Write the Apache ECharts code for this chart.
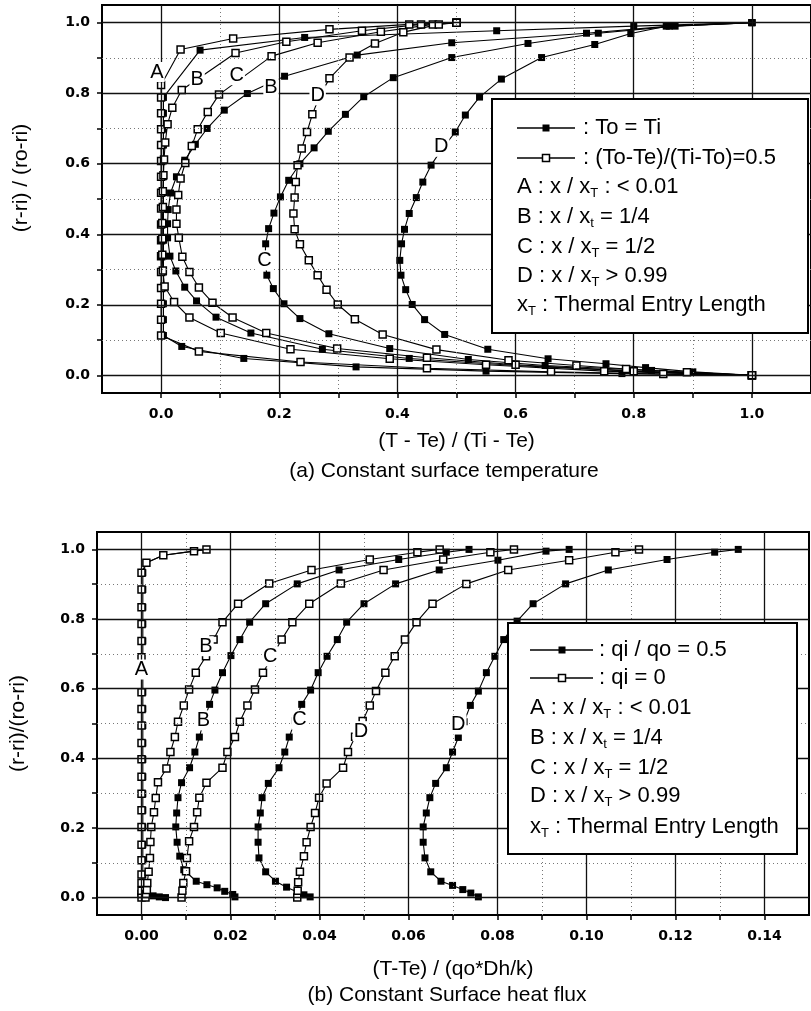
<!DOCTYPE html>
<html>
<head>
<meta charset="utf-8">
<script src="https://cdn.jsdelivr.net/npm/echarts@6.0.0/dist/echarts.min.js"></script>
<style>
  html, body { margin: 0; padding: 0; background: #fff; }
  #chart { width: 811px; height: 1011px; }
</style>
</head>
<body>
<div id="chart"></div>
<script>
// (a) constant surface temperature : [ (T-Te)/(Ti-Te), (r-ri)/(ro-ri) ]
var aASolid = [[1.0,0.0],[0.78,0.005],[0.55,0.012],[0.33,0.024],[0.14,0.048],[0.035,0.082],[0.004,0.113],[0.004,0.158],[0.004,0.203],[0.004,0.248],[0.004,0.293],[0.004,0.338],[0.004,0.383],[0.004,0.428],[0.004,0.473],[0.004,0.518],[0.004,0.563],[0.004,0.608],[0.004,0.653],[0.004,0.698],[0.004,0.743],[0.004,0.788],[0.066,0.922],[0.243,0.958],[0.568,0.977],[0.8,0.99],[1.0,1.0]];
var aAOpen = [[1.0,0.0],[0.85,0.004],[0.66,0.01],[0.45,0.02],[0.236,0.038],[0.064,0.068],[0.0,0.113],[0.0,0.158],[0.0,0.203],[0.0,0.248],[0.0,0.293],[0.0,0.338],[0.0,0.383],[0.0,0.428],[0.0,0.473],[0.0,0.518],[0.0,0.563],[0.0,0.608],[0.0,0.653],[0.0,0.698],[0.0,0.743],[0.0,0.788],[0.0,0.823],[0.033,0.924],[0.122,0.955],[0.285,0.981],[0.42,0.995],[0.5,1.0]];
var aBSolid = [[1.0,0.0],[0.8,0.012],[0.6,0.028],[0.42,0.048],[0.273,0.074],[0.152,0.12],[0.093,0.165],[0.06,0.211],[0.04,0.25],[0.025,0.296],[0.015,0.338],[0.011,0.39],[0.011,0.43],[0.012,0.47],[0.016,0.517],[0.026,0.563],[0.04,0.61],[0.058,0.655],[0.078,0.7],[0.107,0.752],[0.146,0.799],[0.209,0.848],[0.332,0.908],[0.492,0.943],[0.72,0.97],[0.86,0.99],[1.0,1.0]];
var aBOpen = [[1.0,0.0],[0.75,0.012],[0.55,0.03],[0.387,0.047],[0.219,0.074],[0.101,0.12],[0.048,0.164],[0.022,0.208],[0.006,0.252],[0.003,0.297],[0.002,0.342],[0.002,0.387],[0.002,0.432],[0.003,0.477],[0.003,0.522],[0.004,0.567],[0.005,0.612],[0.007,0.66],[0.011,0.712],[0.019,0.759],[0.035,0.809],[0.126,0.914],[0.212,0.946],[0.34,0.977],[0.44,0.995],[0.5,1.0]];
var aCSolid = [[1.0,0.0],[0.83,0.014],[0.65,0.028],[0.52,0.045],[0.387,0.076],[0.284,0.118],[0.235,0.161],[0.208,0.203],[0.19,0.246],[0.179,0.284],[0.176,0.33],[0.177,0.373],[0.182,0.416],[0.191,0.46],[0.202,0.506],[0.216,0.553],[0.235,0.6],[0.259,0.645],[0.283,0.692],[0.312,0.74],[0.343,0.79],[0.393,0.844],[0.492,0.901],[0.621,0.941],[0.74,0.97],[0.87,0.99],[1.0,1.0]];
var aCOpen = [[1.0,0.0],[0.8,0.012],[0.6,0.03],[0.45,0.05],[0.298,0.076],[0.178,0.12],[0.121,0.164],[0.087,0.206],[0.064,0.249],[0.048,0.293],[0.036,0.336],[0.03,0.39],[0.026,0.43],[0.026,0.47],[0.029,0.511],[0.033,0.558],[0.041,0.602],[0.052,0.65],[0.062,0.698],[0.079,0.747],[0.098,0.796],[0.187,0.905],[0.265,0.943],[0.372,0.974],[0.46,0.995],[0.5,1.0]];
var aDSolid = [[1.0,0.0],[0.9,0.01],[0.82,0.022],[0.753,0.033],[0.655,0.047],[0.553,0.074],[0.48,0.116],[0.446,0.158],[0.425,0.201],[0.414,0.243],[0.406,0.284],[0.404,0.326],[0.407,0.373],[0.412,0.414],[0.42,0.459],[0.432,0.504],[0.443,0.548],[0.457,0.596],[0.476,0.643],[0.498,0.69],[0.515,0.738],[0.539,0.789],[0.576,0.84],[0.644,0.901],[0.734,0.938],[0.795,0.969],[0.855,0.99],[1.0,1.0]];
var aDOpen = [[1.0,0.0],[0.89,0.009],[0.787,0.018],[0.703,0.028],[0.588,0.043],[0.466,0.073],[0.375,0.116],[0.328,0.159],[0.299,0.201],[0.28,0.243],[0.265,0.284],[0.25,0.326],[0.235,0.372],[0.226,0.414],[0.224,0.459],[0.226,0.504],[0.228,0.548],[0.231,0.596],[0.238,0.643],[0.247,0.69],[0.256,0.74],[0.268,0.79],[0.285,0.842],[0.319,0.901],[0.362,0.941],[0.41,0.973],[0.47,0.995],[0.5,1.0]];
var aLabelText = ['A', 'B', 'C', 'B', 'D', 'C', 'D'];
var aLabelPos = [[-0.007,0.86],[0.061,0.839],[0.128,0.851],[0.186,0.816],[0.265,0.794],[0.175,0.326],[0.474,0.648]];

// (b) constant surface heat flux : [ (T-Te)/(qo*Dh/k), (r-ri)/(ro-ri) ]
var bASolid = [[0.0054,0],[0.004,0.002],[0.0026,0.005],[0.0013,0.01],[0.0005,0.02],[0.0003,0.042],[0.0003,0.066],[0.0003,0.107],[0.0003,0.152],[0.0003,0.203],[0.0003,0.251],[0.0003,0.298],[0.0003,0.347],[0.0003,0.397],[0.0003,0.444],[0.0003,0.494],[0.0003,0.542],[0.0003,0.59],[0.0003,0.737],[0.0003,0.786],[0.0003,0.834],[0.0003,0.885],[0.0003,0.933],[0.0011,0.962],[0.0049,0.983],[0.0118,0.995],[0.0146,1.0]];
var bAOpen = [[0,0],[0,0.01],[0,0.02],[0,0.042],[0,0.066],[0,0.107],[0,0.152],[0,0.203],[0,0.251],[0,0.298],[0,0.347],[0,0.397],[0,0.444],[0,0.494],[0,0.542],[0,0.59],[0,0.64],[0,0.69],[0,0.737],[0,0.786],[0,0.834],[0,0.885],[0,0.933],[0.0011,0.962],[0.0049,0.983],[0.0118,0.995],[0.0146,1.0]];
var bBSolid = [[0.021,0.002],[0.0205,0.009],[0.0187,0.018],[0.017,0.028],[0.0147,0.037],[0.0123,0.047],[0.0095,0.08],[0.0086,0.119],[0.008,0.159],[0.0077,0.203],[0.0079,0.243],[0.0082,0.287],[0.009,0.33],[0.0108,0.373],[0.012,0.418],[0.013,0.461],[0.014,0.508],[0.0153,0.555],[0.0165,0.596],[0.0182,0.646],[0.0201,0.695],[0.0221,0.741],[0.0243,0.791],[0.0279,0.844],[0.035,0.901],[0.0444,0.941],[0.0578,0.971],[0.0685,0.992],[0.0736,1.0]];
var bBOpen = [[0.0009,0],[0.001,0.01],[0.0012,0.022],[0.0013,0.042],[0.0016,0.074],[0.0019,0.114],[0.002,0.16],[0.0022,0.203],[0.0028,0.245],[0.0032,0.286],[0.0037,0.331],[0.0056,0.371],[0.0065,0.418],[0.0075,0.461],[0.0082,0.505],[0.0095,0.552],[0.0107,0.598],[0.0122,0.646],[0.0145,0.693],[0.0162,0.741],[0.0182,0.791],[0.0217,0.844],[0.0287,0.902],[0.0382,0.941],[0.0513,0.971],[0.062,0.992],[0.067,1.0]];
var bCSolid = [[0.0379,0.002],[0.0365,0.008],[0.035,0.016],[0.0326,0.03],[0.0301,0.047],[0.0279,0.074],[0.0264,0.114],[0.0262,0.159],[0.0262,0.203],[0.0267,0.243],[0.0271,0.287],[0.0285,0.328],[0.0309,0.373],[0.0322,0.418],[0.0332,0.461],[0.0345,0.508],[0.036,0.555],[0.038,0.596],[0.0397,0.646],[0.0417,0.693],[0.044,0.741],[0.0461,0.791],[0.05,0.844],[0.0571,0.901],[0.0669,0.941],[0.0801,0.969],[0.0909,0.995],[0.0961,1.0]];
var bCOpen = [[0.009,0],[0.0092,0.02],[0.0094,0.042],[0.01,0.076],[0.0102,0.114],[0.0107,0.162],[0.0118,0.203],[0.0125,0.245],[0.013,0.287],[0.0146,0.33],[0.0182,0.373],[0.0193,0.418],[0.021,0.461],[0.0221,0.505],[0.0238,0.552],[0.0255,0.598],[0.0273,0.646],[0.0294,0.693],[0.0315,0.741],[0.0339,0.791],[0.0377,0.844],[0.0448,0.902],[0.0544,0.941],[0.0678,0.971],[0.0784,0.992],[0.0837,1.0]];
var bDSolid = [[0.0757,0.002],[0.074,0.013],[0.0722,0.023],[0.0699,0.035],[0.0673,0.047],[0.065,0.074],[0.0637,0.114],[0.0633,0.159],[0.0633,0.203],[0.064,0.243],[0.0648,0.287],[0.0661,0.328],[0.0685,0.373],[0.0699,0.418],[0.0712,0.46],[0.0725,0.505],[0.0739,0.552],[0.0757,0.593],[0.0775,0.646],[0.0794,0.693],[0.0814,0.741],[0.0844,0.794],[0.088,0.844],[0.0953,0.901],[0.1049,0.941],[0.1181,0.971],[0.1288,0.992],[0.1341,1.0]];
var bDOpen = [[0.035,0],[0.0351,0.02],[0.0352,0.044],[0.0356,0.074],[0.0365,0.119],[0.0371,0.159],[0.038,0.203],[0.039,0.243],[0.0399,0.287],[0.0416,0.328],[0.0453,0.373],[0.0464,0.418],[0.048,0.462],[0.0497,0.507],[0.0513,0.552],[0.0527,0.593],[0.0548,0.646],[0.0569,0.693],[0.0592,0.741],[0.0618,0.791],[0.0654,0.844],[0.073,0.901],[0.0824,0.941],[0.0961,0.969],[0.1065,0.992],[0.1118,1.0]];
var bLabelText = ['A', 'B', 'C', 'B', 'C', 'D', 'D'];
var bLabelPos = [[0,0.655],[0.0145,0.722],[0.0289,0.693],[0.0139,0.509],[0.0355,0.511],[0.0493,0.478],[0.0712,0.497]];

// ticks / grid values
var yTicks = [0,0.1,0.2,0.3,0.4,0.5,0.6,0.7,0.8,0.9,1.0];
var yLabels = [0,0.2,0.4,0.6,0.8,1.0];
var yMinor = [0.1,0.3,0.5,0.7,0.9];
var aXTicks = [0,0.1,0.2,0.3,0.4,0.5,0.6,0.7,0.8,0.9,1.0];
var aXLabels = [0,0.2,0.4,0.6,0.8,1.0];
var aXMinor = [0.1,0.3,0.5,0.7,0.9];
var bXTicks = [0,0.01,0.02,0.03,0.04,0.05,0.06,0.07,0.08,0.09,0.1,0.11,0.12,0.13,0.14];
var bXLabels = [0,0.02,0.04,0.06,0.08,0.1,0.12,0.14];
var bXMinor = [0.01,0.03,0.05,0.07,0.09,0.11,0.13];

var FONT = '"Liberation Sans", Arial, sans-serif';
var TICKFONT = '"DejaVu Sans", sans-serif';

var chart = echarts.init(document.getElementById('chart'));

function curve(name, data, open, idx) {
  return {
    name: name, type: 'line', xAxisIndex: idx, yAxisIndex: idx, data: data,
    symbol: 'rect', symbolSize: 7, showAllSymbol: true, silent: true,
    lineStyle: { color: '#000', width: 1.1 },
    itemStyle: open ? { color: '#fff', borderColor: '#000', borderWidth: 1.5 } : { color: '#000' },
    z: open ? 4 : 3
  };
}

function gridLines(idx, xMaj, xMin, yMaj, yMin) {
  var maj = { color: '#111', width: 1.3, type: 'solid' };
  var mnr = { color: '#777', width: 1, type: [1, 3] };
  var items = [];
  xMaj.forEach(function (v) { items.push({ xAxis: v, lineStyle: maj }); });
  xMin.forEach(function (v) { items.push({ xAxis: v, lineStyle: mnr }); });
  yMaj.forEach(function (v) { items.push({ yAxis: v, lineStyle: maj }); });
  yMin.forEach(function (v) { items.push({ yAxis: v, lineStyle: mnr }); });
  return {
    type: 'line', xAxisIndex: idx, yAxisIndex: idx, data: [], z: 1, silent: true,
    markLine: { silent: true, symbol: ['none', 'none'], label: { show: false }, animation: false, data: items }
  };
}

function curveLabels(idx, texts, pos) {
  return {
    type: 'scatter', xAxisIndex: idx, yAxisIndex: idx, symbolSize: 0, silent: true, z: 6,
    itemStyle: { opacity: 1 },
    data: pos.map(function (p, i) { return { value: p, name: texts[i] }; }),
    label: {
      show: true, position: [0, 0], align: 'center', verticalAlign: 'middle',
      formatter: '{b}', fontSize: 20, fontFamily: FONT, color: '#000',
      textBorderWidth: 0, backgroundColor: '#fff', padding: [0, 1]
    }
  };
}

function xAxis(idx, min, max, ticks, labels, digits, name, gap) {
  return {
    gridIndex: idx, type: 'value', min: min, max: max,
    name: name, nameLocation: 'middle', nameGap: gap,
    nameTextStyle: { fontSize: 21, fontFamily: FONT, color: '#000' },
    axisLine: { show: true, onZero: false, lineStyle: { color: '#000', width: 2 } },
    axisTick: { show: true, customValues: ticks, length: 5, lineStyle: { color: '#000', width: 1.5 } },
    axisLabel: {
      customValues: labels, margin: 14, fontSize: 14, fontWeight: 'bold', fontFamily: TICKFONT, color: '#000',
      formatter: function (v) { return v.toFixed(digits); }
    },
    splitLine: { show: false }
  };
}

function yAxis(idx, name, gap, shift) {
  return {
    gridIndex: idx, type: 'value', min: -0.05, max: 1.05,
    name: name, nameLocation: 'middle', nameGap: gap,
    nameTextStyle: { fontSize: 21, fontFamily: FONT, color: '#000', padding: [0, 0, 0, shift] },
    axisLine: { show: true, onZero: false, lineStyle: { color: '#000', width: 2 } },
    axisTick: { show: true, customValues: yTicks, length: 5, lineStyle: { color: '#000', width: 1.5 } },
    axisLabel: {
      customValues: yLabels, margin: 12, fontSize: 14, fontWeight: 'bold', fontFamily: TICKFONT, color: '#000',
      formatter: function (v) { return v.toFixed(1); }
    },
    splitLine: { show: false }
  };
}

// legend boxes are drawn with graphic elements
var rich = {
  n: { fontSize: 22, fontFamily: FONT, lineHeight: 26 },
  s: { fontSize: 13, fontFamily: FONT, lineHeight: 10, verticalAlign: 'bottom' }
};
var noteRows = [
  '{n|A : x / x}{s|T}{n| : < 0.01}',
  '{n|B : x / x}{s|t}{n| = 1/4}',
  '{n|C : x / x}{s|T}{n| = 1/2}',
  '{n|D : x / x}{s|T}{n| > 0.99}',
  '{n|x}{s|T}{n| : Thermal Entry Length}'
];

function legendBox(box, symX, sqX, txtX, rows, entries, noteX, noteYs) {
  var els = [{
    type: 'rect', z: 100, shape: { x: box[0], y: box[1], width: box[2], height: box[3] },
    style: { fill: '#fff', stroke: '#000', lineWidth: 2 }
  }];
  entries.forEach(function (e, i) {
    var y = rows[i];
    els.push({ type: 'line', z: 100, shape: { x1: symX[0], y1: y, x2: symX[1], y2: y }, style: { stroke: '#000', lineWidth: 1.3 } });
    els.push({ type: 'rect', z: 101, shape: { x: sqX - 3.5, y: y - 3.5, width: 7, height: 7 },
      style: e.open ? { fill: '#fff', stroke: '#000', lineWidth: 1.5 } : { fill: '#000' } });
    els.push({ type: 'text', z: 101, x: txtX, y: y,
      style: { text: e.text, fontSize: 22, fontFamily: FONT, fill: '#000', align: 'left', verticalAlign: 'middle' } });
  });
  noteRows.forEach(function (t, i) {
    els.push({ type: 'text', z: 101, x: noteX, y: noteYs[i],
      style: { text: t, rich: rich, fill: '#000', align: 'left', verticalAlign: 'middle' } });
  });
  return els;
}

var graphics = []
  .concat(legendBox([492, 99, 316, 234], [517, 575], 546, 583, [128, 158],
    [{ text: ': To = Ti', open: false }, { text: ': (To-Te)/(Ti-To)=0.5', open: true }],
    517, [187, 217, 247, 276, 305]))
  .concat(legendBox([508, 623, 289, 231], [530, 593], 562, 599, [650, 678],
    [{ text: ': qi / qo = 0.5', open: false }, { text: ': qi = 0', open: true }],
    530, [708, 738, 768, 796, 827]))
  .concat([
    { type: 'text', z: 100, x: 444, y: 471,
      style: { text: '(a) Constant surface temperature', fontSize: 21, fontFamily: FONT, fill: '#000', align: 'center', verticalAlign: 'middle' } },
    { type: 'text', z: 100, x: 447, y: 995,
      style: { text: '(b) Constant Surface heat flux', fontSize: 21, fontFamily: FONT, fill: '#000', align: 'center', verticalAlign: 'middle' } }
  ]);

var option = {
  animation: false,
  backgroundColor: '#fff',
  grid: [
    { left: 102, top: 5, width: 716, height: 388, show: true, borderColor: '#000', borderWidth: 2, containLabel: false },
    { left: 97, top: 532, width: 712, height: 383, show: true, borderColor: '#000', borderWidth: 2, containLabel: false }
  ],
  xAxis: [
    xAxis(0, -0.1, 1.1, aXTicks, aXLabels, 1, '(T - Te) / (Ti - Te)', 38),
    xAxis(1, -0.01, 0.15, bXTicks, bXLabels, 2, '(T-Te) / (qo*Dh/k)', 44)
  ],
  yAxis: [
    yAxis(0, '(r-ri) / (ro-ri)', 70, 42),
    yAxis(1, '(r-ri)/(ro-ri)', 68, 0)
  ],
  series: [
    gridLines(0, aXLabels, aXMinor, yLabels, yMinor),
    gridLines(1, bXLabels, bXMinor, yLabels, yMinor),
    curve('A To=Ti', aASolid, false, 0),
    curve('B To=Ti', aBSolid, false, 0),
    curve('C To=Ti', aCSolid, false, 0),
    curve('D To=Ti', aDSolid, false, 0),
    curve('A 0.5', aAOpen, true, 0),
    curve('B 0.5', aBOpen, true, 0),
    curve('C 0.5', aCOpen, true, 0),
    curve('D 0.5', aDOpen, true, 0),
    curve('A qi/qo=0.5', bASolid, false, 1),
    curve('B qi/qo=0.5', bBSolid, false, 1),
    curve('C qi/qo=0.5', bCSolid, false, 1),
    curve('D qi/qo=0.5', bDSolid, false, 1),
    curve('A qi=0', bAOpen, true, 1),
    curve('B qi=0', bBOpen, true, 1),
    curve('C qi=0', bCOpen, true, 1),
    curve('D qi=0', bDOpen, true, 1),
    curveLabels(0, aLabelText, aLabelPos),
    curveLabels(1, bLabelText, bLabelPos)
  ],
  graphic: graphics
};

chart.setOption(option);
</script>
</body>
</html>
